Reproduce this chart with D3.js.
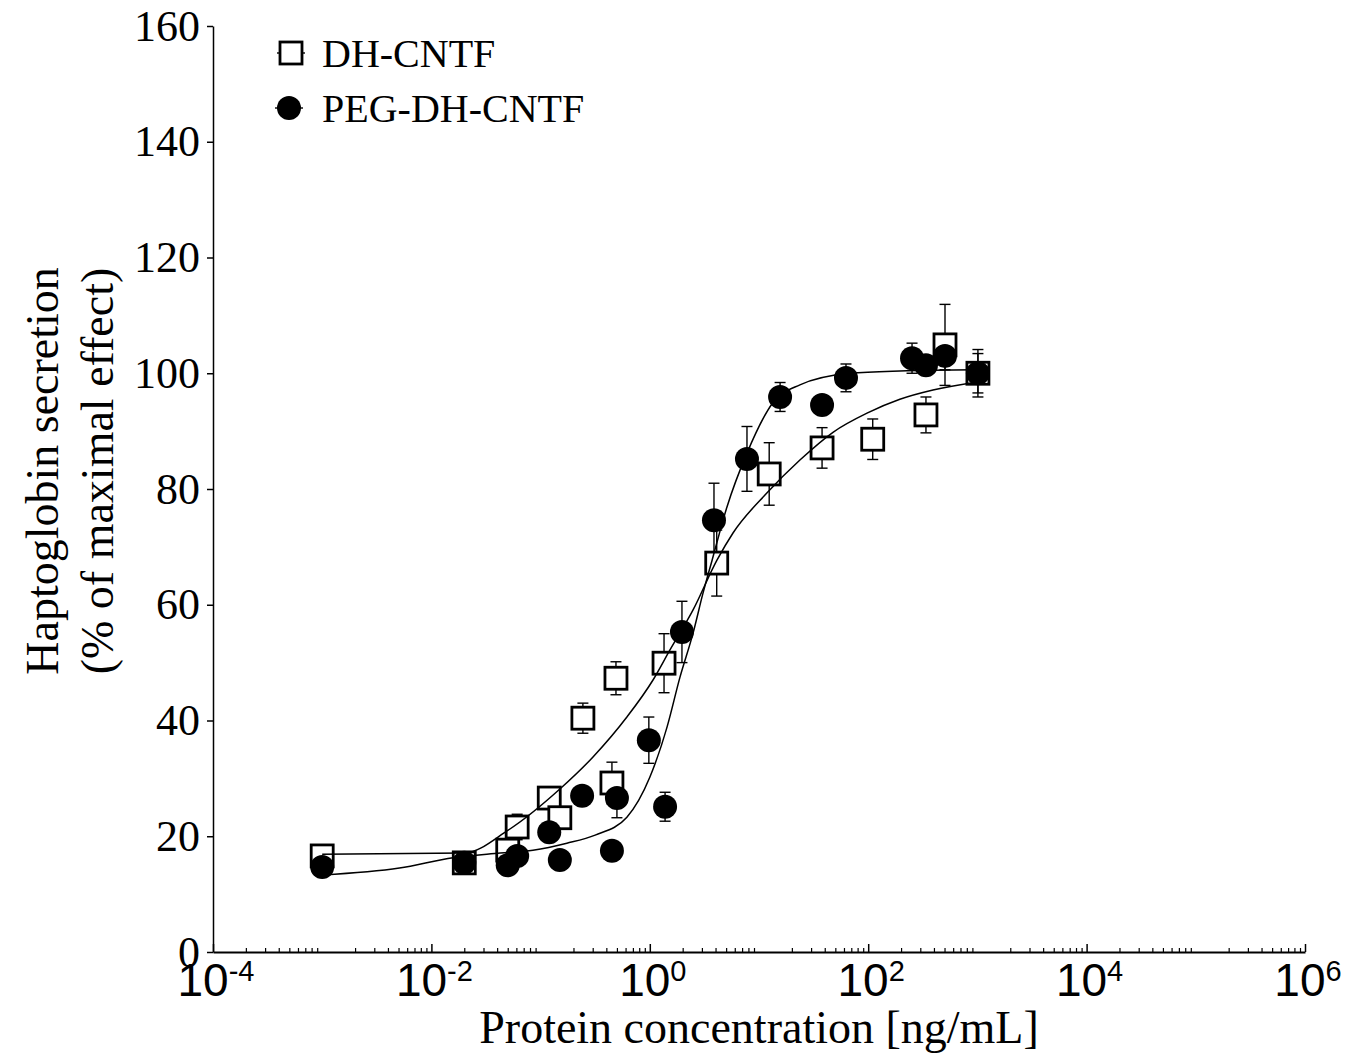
<!DOCTYPE html>
<html>
<head>
<meta charset="utf-8">
<script src="https://cdn.jsdelivr.net/npm/d3@7"></script>
<style>
  html, body { margin: 0; padding: 0; background: #fff; }
  svg { display: block; }
</style>
</head>
<body>
<svg id="chart" width="1356" height="1053"></svg>
<script>
// ---- Data: haptoglobin secretion vs protein concentration ----
// DH-CNTF (open squares)
const dhConc = [0.001, 0.02, 0.05, 0.061, 0.12, 0.15, 0.244, 0.45, 0.49, 1.35, 4.1, 12.4, 37.8, 110, 338, 505, 1011];
const dhMean = [16.6, 15.4, 17.6, 21.6, 26.6, 23.2, 40.4, 29.2, 47.3, 49.9, 67.2, 82.6, 87.1, 88.6, 92.8, 104.9, 100.0];
const dhSem  = [1.0, 1.0, 1.0, 2.2, 1.5, 1.5, 2.6, 3.6, 2.85, 5.1, 5.7, 5.4, 3.5, 3.5, 3.1, 7.0, 4.1];

// PEG-DH-CNTF (filled circles)
const pegConc = [0.001, 0.02, 0.05, 0.061, 0.12, 0.15, 0.24, 0.45, 0.5, 0.98, 1.38, 1.97, 3.87, 7.76, 15.6, 37.8, 62.6, 252, 338, 505, 1011];
const pegMean = [14.7, 15.4, 15.0, 16.6, 20.7, 15.9, 27.0, 17.5, 26.6, 36.6, 25.1, 55.3, 74.6, 85.2, 95.9, 94.5, 99.2, 102.6, 101.4, 103.0, 100.0];
const pegSem  = [1.0, 1.0, 1.0, 1.0, 1.0, 1.0, 1.0, 1.0, 3.4, 4.0, 2.5, 5.3, 6.4, 5.6, 2.5, 1.0, 2.4, 2.6, 1.0, 2.4, 3.4];

// Fitted dose-response curves
const dhFitConc  = [0.001, 0.02, 0.05, 0.151, 0.302, 0.617, 1.07, 1.53, 2.49, 4.12, 5.78, 11.8, 23.7, 47.6, 97.5, 195, 392, 1000];
const dhFitVal   = [16.9, 17.1, 21.0, 28.2, 33.7, 40.6, 47.0, 52.2, 59.1, 67.7, 72.4, 79.3, 85.0, 89.8, 93.1, 95.5, 97.1, 98.5];
const pegFitConc = [0.001, 0.0051, 0.0158, 0.0427, 0.0851, 0.174, 0.316, 0.617, 1.0, 1.44, 1.89, 2.49, 3.07, 3.72, 5.09, 7.76, 13.4, 23.7, 68.1, 195, 1000];
const pegFitVal  = [13.3, 14.5, 16.3, 17.1, 17.6, 18.8, 20.2, 23.3, 30.2, 38.9, 47.5, 55.1, 62.0, 67.7, 76.9, 86.2, 94.9, 98.0, 100.0, 100.4, 100.6];

// Axis ticks
const xMajorTicks = [1e-4, 1e-2, 1e0, 1e2, 1e4, 1e6];
const xTickExponents = ["-4", "-2", "0", "2", "4", "6"];
const yTicks = [0, 20, 40, 60, 80, 100, 120, 140, 160];

const seriesNames = ["DH-CNTF", "PEG-DH-CNTF"];

// ---- Layout ----
const svg = d3.select("#chart");
const x = d3.scaleLog().domain([1e-4, 1e6]).range([213, 1305]);
const y = d3.scaleLinear().domain([0, 160]).range([952, 26]);

const serif = "'Liberation Serif', 'Times New Roman', serif";
const sans = "'Liberation Sans', Arial, sans-serif";

// minor log ticks (2..9 in each decade)
const xMinorTicks = [];
for (let e = -4; e < 6; e++) {
  for (let m = 2; m <= 9; m++) xMinorTicks.push(m * Math.pow(10, e));
}

// ---- Y axis ----
const yAxis = svg.append("g")
  .attr("transform", `translate(${x.range()[0]},0)`)
  .call(d3.axisLeft(y).tickValues(yTicks).tickSize(6).tickSizeOuter(0).tickPadding(7));
yAxis.select(".domain").attr("stroke", "#000").attr("stroke-width", 1.5);
yAxis.selectAll(".tick line").attr("stroke", "#000").attr("stroke-width", 1.5);
yAxis.selectAll(".tick text")
  .attr("font-family", serif).attr("font-size", 44).attr("fill", "#000");

// ---- X axis (ticks point inward) ----
const xAxisMinor = svg.append("g")
  .attr("transform", `translate(0,${y(0)})`)
  .call(d3.axisBottom(x).tickValues(xMinorTicks).tickSize(-4).tickSizeOuter(0).tickFormat(""));
xAxisMinor.select(".domain").remove();
xAxisMinor.selectAll(".tick line").attr("stroke", "#000").attr("stroke-width", 1.2);

const xAxis = svg.append("g")
  .attr("transform", `translate(0,${y(0)})`)
  .call(d3.axisBottom(x).tickValues(xMajorTicks).tickSize(-8).tickSizeOuter(0).tickFormat(""));
xAxis.select(".domain").attr("stroke", "#000").attr("stroke-width", 2);
xAxis.selectAll(".tick line").attr("stroke", "#000").attr("stroke-width", 1.5);

// power-of-ten labels
const xLab = svg.append("g");
xMajorTicks.forEach((t, i) => {
  const tx = xLab.append("text")
    .attr("x", x(t) + 3).attr("y", 996)
    .attr("text-anchor", "middle")
    .attr("font-family", sans).attr("fill", "#000");
  tx.append("tspan").attr("font-size", 46).text("10");
  tx.append("tspan").attr("font-size", 29).attr("dy", -15).text(xTickExponents[i]);
});

// axis titles
svg.append("text")
  .attr("x", 759).attr("y", 1043)
  .attr("text-anchor", "middle")
  .attr("font-family", serif).attr("font-size", 46).attr("fill", "#000")
  .text("Protein concentration [ng/mL]");

const yTitle = svg.append("text")
  .attr("transform", "translate(0,471) rotate(-90)")
  .attr("text-anchor", "middle")
  .attr("font-family", serif).attr("font-size", 46).attr("fill", "#000");
yTitle.append("tspan").attr("x", 0).attr("y", 58).text("Haptoglobin secretion");
yTitle.append("tspan").attr("x", 0).attr("y", 113).text("(% of maximal effect)");

// ---- Marks ----
const dh = dhConc.map((c, i) => ({ c, m: dhMean[i], s: dhSem[i] }));
const peg = pegConc.map((c, i) => ({ c, m: pegMean[i], s: pegSem[i] }));
const SQ = 22, R = 12, CAP = 5.5;

function errorBars(g, data) {
  const eb = g.selectAll("g").data(data).join("g")
    .attr("stroke", "#000").attr("stroke-width", 1.4);
  eb.append("line")
    .attr("x1", d => x(d.c)).attr("x2", d => x(d.c))
    .attr("y1", d => y(d.m - d.s)).attr("y2", d => y(d.m + d.s));
  eb.append("line")
    .attr("x1", d => x(d.c) - CAP).attr("x2", d => x(d.c) + CAP)
    .attr("y1", d => y(d.m + d.s)).attr("y2", d => y(d.m + d.s));
  eb.append("line")
    .attr("x1", d => x(d.c) - CAP).attr("x2", d => x(d.c) + CAP)
    .attr("y1", d => y(d.m - d.s)).attr("y2", d => y(d.m - d.s));
}
errorBars(svg.append("g"), dh);
errorBars(svg.append("g"), peg);

// open squares
svg.append("g").selectAll("rect").data(dh).join("rect")
  .attr("x", d => x(d.c) - SQ / 2).attr("y", d => y(d.m) - SQ / 2)
  .attr("width", SQ).attr("height", SQ)
  .attr("fill", "#fff").attr("stroke", "#000").attr("stroke-width", 2.8);

// fitted curves
const line = d3.line().x(d => x(d[0])).y(d => y(d[1])).curve(d3.curveMonotoneX);
svg.append("path")
  .datum(dhFitConc.map((c, i) => [c, dhFitVal[i]]))
  .attr("d", line).attr("fill", "none").attr("stroke", "#000").attr("stroke-width", 1.5);
svg.append("path")
  .datum(pegFitConc.map((c, i) => [c, pegFitVal[i]]))
  .attr("d", line).attr("fill", "none").attr("stroke", "#000").attr("stroke-width", 1.5);

// filled circles
svg.append("g").selectAll("circle").data(peg).join("circle")
  .attr("cx", d => x(d.c)).attr("cy", d => y(d.m)).attr("r", R)
  .attr("fill", "#000");

// ---- Legend ----
const legend = svg.append("g");
[53, 108].forEach((ly, i) => {
  const lx = i === 0 ? 291 : 289;
  legend.append("line")
    .attr("x1", lx - 14).attr("x2", lx + 14).attr("y1", ly).attr("y2", ly)
    .attr("stroke", "#000").attr("stroke-width", 1.4);
  if (i === 0) {
    legend.append("rect")
      .attr("x", lx - SQ / 2).attr("y", ly - SQ / 2).attr("width", SQ).attr("height", SQ)
      .attr("fill", "#fff").attr("stroke", "#000").attr("stroke-width", 2.8);
  } else {
    legend.append("circle").attr("cx", lx).attr("cy", ly).attr("r", R).attr("fill", "#000");
  }
  legend.append("text")
    .attr("x", 322).attr("y", ly + 14)
    .attr("font-family", serif).attr("font-size", 40).attr("fill", "#000")
    .text(seriesNames[i]);
});
</script>
</body>
</html>
